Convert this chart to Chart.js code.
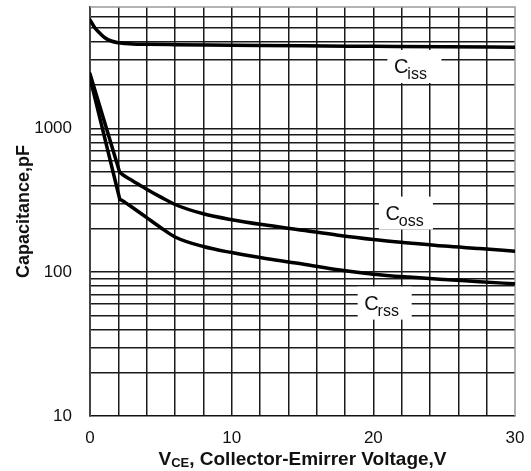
<!DOCTYPE html>
<html>
<head>
<meta charset="utf-8">
<script src="https://cdn.jsdelivr.net/npm/chart.js@4/dist/chart.umd.min.js"></script>
<style>
html, body { margin: 0; padding: 0; background: #fff; }
#wrap { width: 531px; height: 471px; position: relative; }
</style>
</head>
<body>
<div id="wrap"><canvas id="cap" width="531" height="471"></canvas></div>
<script>
// Collector-emitter voltage grid (V) and which ticks carry a label
const vceTicks = [0, 2, 4, 6, 8, 10, 12, 14, 16, 18, 20, 22, 24, 26, 28, 30];
const vceLabels = [0, 10, 20, 30];

// Capacitance grid (pF), log scale, and which ticks carry a label
const capTicks = [10, 20, 30, 40, 50, 60, 70, 80, 90,
                  100, 200, 300, 400, 500, 600, 700, 800, 900,
                  1000, 2000, 3000, 4000, 5000, 6000, 7000];
const capLabels = [10, 100, 1000];

// Input capacitance Ciss
const cissV  = [0, 0.35, 0.7, 1.05, 1.5, 2, 2.5, 3, 4, 6, 10, 15, 20, 25, 30];
const cissPF = [5700, 5000, 4600, 4280, 4060, 3950, 3900, 3870, 3850, 3830, 3800, 3760, 3730, 3700, 3680];

// Output capacitance Coss (first two points: steep drop to the knee)
const cossV  = [0, 2.1, 2.5, 3, 4, 5, 6, 8, 10, 12.5, 15, 17.5, 20, 22.5, 25, 27.5, 30];
const cossPF = [2400, 495, 463, 433, 378, 333, 296, 255, 232, 212, 196, 181, 169, 160, 152, 146, 140];

// Reverse transfer capacitance Crss (first two points: steep drop to the knee)
const crssV  = [0, 2.1, 2.5, 3, 4, 5, 6, 8, 10, 12.5, 15, 17.5, 20, 22.5, 25, 27.5, 30];
const crssPF = [2250, 322, 305, 282, 240, 204, 176, 151, 137, 124, 114, 104, 97, 92.5, 89, 86, 83];

// Curve name tags: main letter, subscript, and the (V, pF) spot they sit at
const tagMain = ['C', 'C', 'C'];
const tagSub  = ['iss', 'oss', 'rss'];
const tagV    = [22.9, 22.3, 20.8];
const tagPF   = [2700, 258, 61];

const FONT = "'Liberation Sans', Arial, Helvetica, sans-serif";
const GRID = '#1a1a1a';

const toPoints = (xs, ys) => xs.map((x, i) => ({ x: x, y: ys[i] }));

// a smooth stroke through the points, or a straight one
const stroke = (xs, ys, smooth) => ({
  data: toPoints(xs, ys),
  borderColor: '#000',
  borderWidth: 3.5,
  borderJoinStyle: 'round',
  borderCapStyle: 'round',
  pointRadius: 0,
  fill: false,
  tension: 0,
  cubicInterpolationMode: smooth ? 'monotone' : 'default'
});

// steep straight drop up to the knee, then the smooth tail
const kneeCurve = (xs, ys) => [
  stroke(xs.slice(0, 2), ys.slice(0, 2), false),
  stroke(xs.slice(1), ys.slice(1), true)
];

const decorations = {
  id: 'decorations',
  beforeDatasetsDraw(chart) {
    // grey frame on the top and right edges of the plot
    const { ctx, chartArea: a } = chart;
    ctx.save();
    ctx.strokeStyle = '#9a9a9a';
    ctx.lineWidth = 1.5;
    ctx.beginPath();
    ctx.moveTo(a.left, a.top);
    ctx.lineTo(a.right, a.top);
    ctx.lineTo(a.right, a.bottom);
    ctx.stroke();
    ctx.restore();
  },
  afterDatasetsDraw(chart) {
    // white tags naming each curve
    const { ctx } = chart;
    const xs = chart.scales.x, ys = chart.scales.y;
    ctx.save();
    for (let i = 0; i < tagMain.length; i++) {
      const cx = xs.getPixelForValue(tagV[i]);
      const cy = ys.getPixelForValue(tagPF[i]);
      const w = 54, h = 33;
      ctx.fillStyle = '#fff';
      ctx.fillRect(cx - w / 2, cy - h / 2, w, h);
      ctx.fillStyle = '#111';
      ctx.textBaseline = 'alphabetic';
      ctx.textAlign = 'left';
      ctx.font = '20px ' + FONT;
      const x0 = cx - w / 2 + 6.5;
      ctx.fillText(tagMain[i], x0, cy + 7);
      const mw = ctx.measureText(tagMain[i]).width;
      ctx.font = '16px ' + FONT;
      ctx.fillText(tagSub[i], x0 + mw - 1, cy + 12.5);
    }
    ctx.restore();
  },
  afterDraw(chart) {
    // horizontal axis title with subscripted V_CE
    const { ctx, chartArea: a } = chart;
    const big = 'bold 19px ' + FONT, small = 'bold 13px ' + FONT;
    const p1 = 'V', p2 = 'CE', p3 = ', Collector-Emirrer Voltage,V';
    ctx.save();
    ctx.fillStyle = '#111';
    ctx.textBaseline = 'alphabetic';
    ctx.textAlign = 'left';
    ctx.font = big;  const w1 = ctx.measureText(p1).width, w3 = ctx.measureText(p3).width;
    ctx.font = small; const w2 = ctx.measureText(p2).width;
    let x = (a.left + a.right) / 2 - (w1 + w2 + w3) / 2;
    const base = 465;
    ctx.font = big;   ctx.fillText(p1, x, base); x += w1;
    ctx.font = small; ctx.fillText(p2, x, base + 2); x += w2;
    ctx.font = big;   ctx.fillText(p3, x, base);
    ctx.restore();
  }
};

new Chart(document.getElementById('cap'), {
  type: 'line',
  data: {
    datasets: [
      stroke(cissV, cissPF, true),
      ...kneeCurve(cossV, cossPF),
      ...kneeCurve(crssV, crssPF)
    ]
  },
  options: {
    responsive: false,
    animation: false,
    layout: { padding: { top: 7, right: 16, left: 0, bottom: 0 } },
    plugins: { legend: { display: false }, tooltip: { enabled: false } },
    scales: {
      x: {
        type: 'linear',
        min: 0, max: 30,
        afterBuildTicks: s => { s.ticks = vceTicks.map(v => ({ value: v })); },
        afterFit: s => { s.height = 55; s.paddingLeft = 0; s.paddingRight = 0; },
        grid: {
          color: c => (c.tick && (c.tick.value === 0 || c.tick.value === 30)) ? 'rgba(0,0,0,0)' : GRID,
          lineWidth: 1.5,
          drawTicks: false
        },
        border: { color: '#111', width: 1.5 },
        ticks: {
          autoSkip: false, maxRotation: 0, padding: 12, color: '#111',
          font: { family: FONT, size: 17 },
          callback: v => vceLabels.includes(v) ? String(v) : ''
        }
      },
      y: {
        type: 'logarithmic',
        min: 10, max: 7000,
        afterBuildTicks: s => { s.ticks = capTicks.map(v => ({ value: v })); },
        afterFit: s => { s.width = 90; s.paddingTop = 0; s.paddingBottom = 0; },
        grid: {
          color: c => (c.tick && (c.tick.value === 10 || c.tick.value === 7000)) ? 'rgba(0,0,0,0)' : GRID,
          lineWidth: 1.5,
          drawTicks: false
        },
        border: { color: '#444', width: 2 },
        ticks: {
          autoSkip: false, padding: 18, color: '#111',
          font: { family: FONT, size: 17 },
          callback: v => capLabels.includes(v) ? String(v) : ''
        },
        title: {
          display: true,
          text: 'Capacitance,pF',
          color: '#111',
          font: { family: FONT, size: 18, weight: 'bold' },
          padding: { top: 13, bottom: 0 }
        }
      }
    }
  },
  plugins: [decorations]
});
</script>
</body>
</html>
